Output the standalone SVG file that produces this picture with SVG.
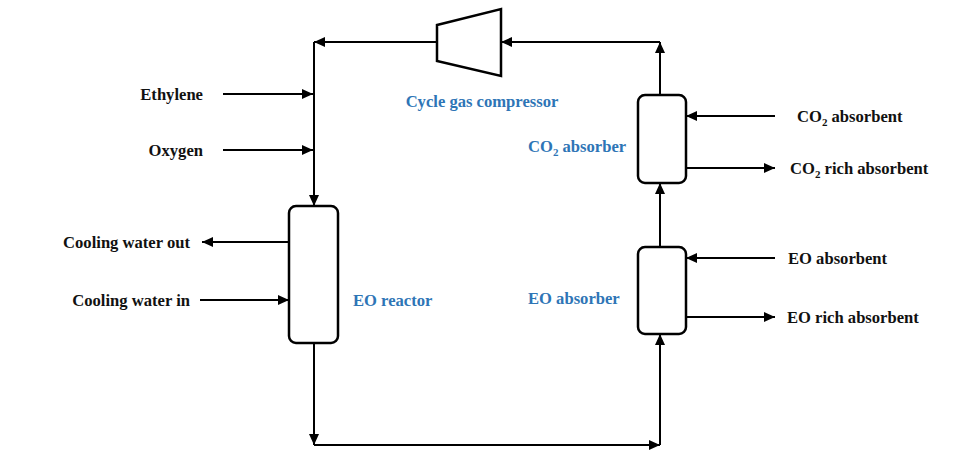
<svg xmlns="http://www.w3.org/2000/svg" width="959" height="458" viewBox="0 0 959 458">
<defs>
<marker id="ah" markerUnits="userSpaceOnUse" markerWidth="12" markerHeight="10" refX="11" refY="5" orient="auto">
<path d="M0,0 L11,5 L0,10 z" fill="#000"/>
</marker>
<style>
.ar{stroke:#000;stroke-width:2;fill:none;marker-end:url(#ah)}
.eq{stroke:#000;stroke-width:2.5;fill:#fff}
.t{font-family:"Liberation Serif","Times New Roman",serif;font-weight:bold;font-size:16.6px;fill:#111}
.b{font-family:"Liberation Serif","Times New Roman",serif;font-weight:bold;font-size:16.6px;fill:#2E75B6}
.s{font-size:11px}
</style>
</defs>
<rect width="959" height="458" fill="#fff"/>
<g id="connectors">
<path class="ar" d="M660,95 L660,42"/>
<path class="ar" d="M660,42 L501,42"/>
<path class="ar" d="M437,42 L314,42"/>
<path class="ar" d="M314,42 L314,206"/>
<path class="ar" d="M223,94 L313,94"/>
<path class="ar" d="M223,150 L313,150"/>
<path class="ar" d="M289,242 L202,242"/>
<path class="ar" d="M200,300 L289,300"/>
<path class="ar" d="M314,343 L314,445"/>
<path class="ar" d="M314,445 L660,445"/>
<path class="ar" d="M660,445 L660,334"/>
<path class="ar" d="M660,247 L660,183"/>
<path class="ar" d="M775,116 L686,116"/>
<path class="ar" d="M686,168 L775,168"/>
<path class="ar" d="M775,258 L686,258"/>
<path class="ar" d="M686,317 L775,317"/>
</g>
<g id="compressor">
<polygon class="eq" points="437,25 501,9 501,76 437,61"/>
<text class="b" x="482" y="107" text-anchor="middle">Cycle gas compressor</text>
</g>
<g id="eo-reactor">
<rect class="eq" x="289" y="206" width="49" height="137" rx="7"/>
<text class="b" x="353" y="306">EO reactor</text>
</g>
<g id="co2-absorber">
<rect class="eq" x="638" y="95" width="48" height="88" rx="7"/>
<text class="b" x="528" y="152">CO<tspan class="s" dy="4">2</tspan><tspan dy="-4"> absorber</tspan></text>
</g>
<g id="eo-absorber">
<rect class="eq" x="638" y="247" width="48" height="87" rx="7"/>
<text class="b" x="528" y="304">EO absorber</text>
</g>
<g id="labels">
<text class="t" x="203" y="100" text-anchor="end">Ethylene</text>
<text class="t" x="203" y="156" text-anchor="end">Oxygen</text>
<text class="t" x="190" y="248" text-anchor="end">Cooling water out</text>
<text class="t" x="190" y="306" text-anchor="end">Cooling water in</text>
<text class="t" x="797" y="122">CO<tspan class="s" dy="4">2</tspan><tspan dy="-4"> absorbent</tspan></text>
<text class="t" x="790" y="174">CO<tspan class="s" dy="4">2</tspan><tspan dy="-4"> rich absorbent</tspan></text>
<text class="t" x="788" y="264">EO absorbent</text>
<text class="t" x="787" y="323">EO rich absorbent</text>
</g>
</svg>
